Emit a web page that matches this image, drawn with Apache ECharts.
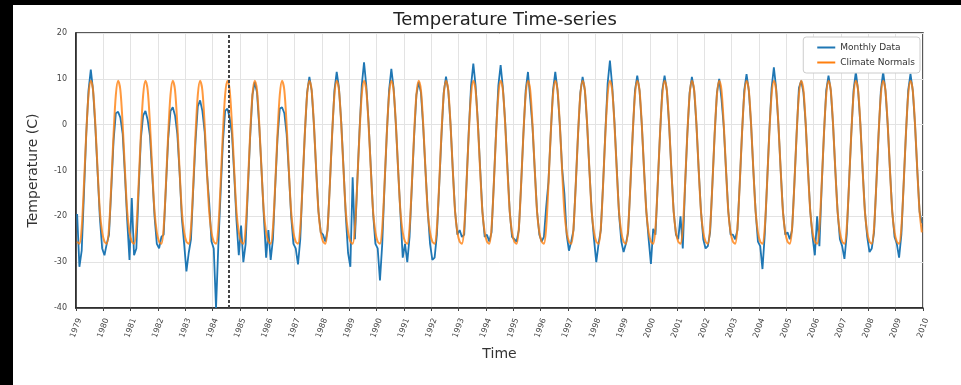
<!DOCTYPE html>
<html>
<head>
<meta charset="utf-8">
<title>Temperature Time-series</title>
<script src="https://cdn.jsdelivr.net/npm/echarts@6/dist/echarts.min.js"></script>
<style>
    html, body { margin: 0; padding: 0; background: #000; }
    #chart { position: absolute; left: 13px; top: 5px; width: 948px; height: 380px; background: #fff; }
</style>
</head>
<body>
<div id="chart"></div>
<script>
// Data
const firstYear = 1979;
const lastYear = 2010;
const eventYear = 1984.58;   // dotted marker line

// Climate normals, Jan..Dec (C)
const normals = [-25.5, -26.0, -22.5, -13.0, -2.0, 6.5, 9.6, 7.5, 0.0, -10.0, -19.0, -23.5];

// Monthly data, one row per year 1979..2009, Jan..Dec (C)
const monthly = [
    [-19.5, -31.0, -27.5, -15.0, -2.0, 7.5, 12.0, 7.5, -0.5, -10.5, -20.5, -27.0],
    [-28.5, -26.0, -24.0, -14.0, -3.5, 2.5, 2.8, 1.5, -2.0, -11.0, -21.0, -29.5],
    [-16.0, -28.5, -27.0, -14.5, -3.0, 2.0, 3.0, 1.0, -2.5, -11.0, -20.0, -26.0],
    [-27.0, -24.5, -24.0, -13.5, -3.0, 3.0, 3.8, 2.0, -2.0, -10.5, -20.5, -26.0],
    [-32.0, -28.0, -25.0, -14.0, -3.5, 4.0, 5.3, 3.0, -1.5, -10.5, -17.0, -25.5],
    [-27.0, -40.0, -26.5, -15.0, -4.0, 3.0, 3.5, 1.5, -2.0, -11.0, -21.0, -28.5],
    [-22.0, -30.0, -26.0, -14.0, -2.5, 6.5, 9.3, 7.0, -0.5, -10.0, -20.0, -29.0],
    [-23.0, -29.5, -25.0, -13.5, -3.0, 3.5, 3.8, 2.5, -2.0, -10.5, -20.0, -26.0],
    [-27.0, -30.5, -25.0, -13.0, -2.0, 7.0, 10.4, 7.5, 0.0, -10.0, -19.0, -23.5],
    [-24.0, -25.5, -23.0, -13.0, -2.0, 7.5, 11.5, 8.0, 0.5, -9.5, -20.0, -28.0],
    [-31.0, -11.5, -25.0, -13.0, -1.5, 8.5, 13.6, 8.5, 0.5, -9.5, -19.5, -26.0],
    [-27.0, -34.0, -26.0, -13.5, -2.0, 7.5, 12.2, 8.0, 0.0, -10.0, -19.5, -29.0],
    [-26.0, -30.0, -24.5, -13.5, -2.5, 6.5, 9.3, 7.0, -0.5, -10.0, -19.0, -26.0],
    [-29.5, -29.0, -24.0, -13.5, -2.5, 7.0, 10.5, 7.5, 0.0, -10.0, -19.0, -24.0],
    [-23.0, -24.5, -24.0, -13.0, -1.5, 8.5, 13.3, 8.5, 0.5, -9.5, -19.0, -24.5],
    [-24.0, -25.5, -23.5, -13.0, -1.5, 8.5, 13.0, 8.0, 0.5, -9.5, -19.0, -24.5],
    [-25.0, -25.5, -23.0, -13.0, -2.0, 7.5, 11.5, 5.6, -0.5, -10.0, -19.0, -24.0],
    [-25.5, -24.5, -18.0, -12.5, -2.0, 7.5, 11.5, 7.5, 0.0, -9.5, -15.0, -24.0],
    [-27.5, -25.5, -23.0, -13.0, -2.0, 7.0, 10.4, 7.5, 0.0, -10.0, -19.0, -25.0],
    [-30.0, -26.0, -23.0, -13.0, -1.5, 9.0, 14.0, 8.5, 0.5, -9.5, -19.5, -25.5],
    [-27.8, -26.0, -23.5, -13.0, -2.0, 7.5, 10.7, 7.5, 0.0, -10.0, -19.0, -25.0],
    [-30.4, -22.7, -24.0, -13.0, -2.0, 7.5, 10.7, 7.5, 0.0, -10.0, -19.0, -24.0],
    [-25.0, -20.0, -27.0, -13.5, -2.0, 7.0, 10.4, 7.5, 0.0, -10.0, -19.0, -25.0],
    [-27.0, -26.5, -23.5, -13.0, -2.0, 7.0, 10.0, 5.6, -0.5, -10.0, -19.0, -24.0],
    [-24.0, -25.0, -23.0, -13.0, -2.0, 7.5, 11.0, 7.5, 0.0, -10.0, -19.0, -25.5],
    [-26.5, -31.5, -24.0, -13.0, -1.5, 8.0, 12.5, 8.0, 0.0, -10.0, -19.0, -24.0],
    [-23.5, -25.0, -23.0, -13.0, -2.0, 8.0, 9.6, 7.0, 0.0, -10.0, -19.0, -24.5],
    [-28.5, -20.0, -26.5, -13.5, -2.0, 7.5, 10.7, 7.5, 0.0, -10.0, -19.0, -25.0],
    [-26.5, -29.3, -24.0, -13.0, -2.0, 7.5, 11.5, 7.5, 0.0, -10.0, -19.0, -24.5],
    [-27.8, -27.0, -23.5, -13.0, -2.0, 7.5, 11.5, 7.5, 0.0, -10.0, -19.0, -24.5],
    [-26.0, -29.0, -24.0, -13.0, -2.0, 7.5, 11.1, 7.5, 0.0, -10.0, -19.0, -21.5]
];

// Build [decimalYear, value] pairs, mid-month
let monthlySeries = [];
let normalSeries = [];
for (let y = 0; y < monthly.length; y++) {
    for (let m = 0; m < 12; m++) {
        const t = firstYear + y + (m + 0.5) / 12;
        monthlySeries.push([t, monthly[y][m]]);
        normalSeries.push([t, normals[m]]);
    }
}

const font = 'DejaVu Sans';
let myChart = echarts.init(document.getElementById('chart'));

const option = {
    animation: false,
    backgroundColor: '#fff',
    textStyle: { fontFamily: font },
    title: {
        text: 'Temperature Time-series',
        left: 487,
        textAlign: 'center',
        top: 1,
        textStyle: { fontFamily: font, fontSize: 18, fontWeight: 'normal', color: '#222' }
    },
    legend: {
        data: ['Monthly Data', 'Climate Normals'],
        orient: 'vertical',
        right: 41,
        top: 32,
        icon: 'rect',
        itemWidth: 18,
        itemHeight: 2,
        itemGap: 6,
        padding: [6, 5, 6, 14],
        backgroundColor: '#fff',
        borderColor: '#ccc',
        borderWidth: 1,
        borderRadius: 3,
        textStyle: { fontFamily: font, fontSize: 9, color: '#333' }
    },
    grid: {
        left: 63,
        right: 38,
        top: 28,
        bottom: 77,
        show: true,
        borderColor: '#222',
        borderWidth: 1.5
    },
    xAxis: {
        type: 'value',
        min: firstYear,
        max: lastYear,
        interval: 1,
        name: 'Time',
        nameLocation: 'middle',
        nameGap: 39,
        nameTextStyle: { fontFamily: font, fontSize: 14, color: '#333' },
        axisLine: { show: true, onZero: false, lineStyle: { color: '#222', width: 1.5 } },
        axisTick: { show: true, length: 3, lineStyle: { color: '#444' } },
        axisLabel: {
            rotate: 70,
            align: 'center',
            verticalAlign: 'middle',
            margin: 20,
            fontSize: 8,
            color: '#444',
            formatter: function (v) { return String(Math.round(v)); }
        },
        splitLine: { show: true, lineStyle: { color: '#e3e3e3', width: 1 } }
    },
    yAxis: {
        type: 'value',
        min: -40,
        max: 20,
        interval: 10,
        name: 'Temperature (C)',
        nameLocation: 'middle',
        nameGap: 36,
        nameTextStyle: { fontFamily: font, fontSize: 14, color: '#333' },
        axisLine: { show: true, onZero: false, lineStyle: { color: '#222', width: 1.5 } },
        axisTick: { show: false },
        axisLabel: { fontSize: 8, color: '#444', margin: 9 },
        splitLine: { show: true, lineStyle: { color: '#e3e3e3', width: 1 } }
    },
    series: [
        {
            name: 'Monthly Data',
            type: 'line',
            data: monthlySeries,
            showSymbol: false,
            symbol: 'none',
            color: '#1f77b4',
            lineStyle: { color: '#1f77b4', width: 1.8 },
            markLine: {
                silent: true,
                symbol: 'none',
                label: { show: false },
                lineStyle: { color: '#444', type: [3, 2], width: 2 },
                data: [{ xAxis: eventYear }]
            }
        },
        {
            name: 'Climate Normals',
            type: 'line',
            data: normalSeries,
            showSymbol: false,
            symbol: 'none',
            smooth: 0.3,
            color: '#ff7f0e',
            lineStyle: { color: '#ff7f0e', width: 2, opacity: 0.8 }
        }
    ]
};

if (option && typeof option === 'object') {
    myChart.setOption(option, true);
}
</script>
</body>
</html>
